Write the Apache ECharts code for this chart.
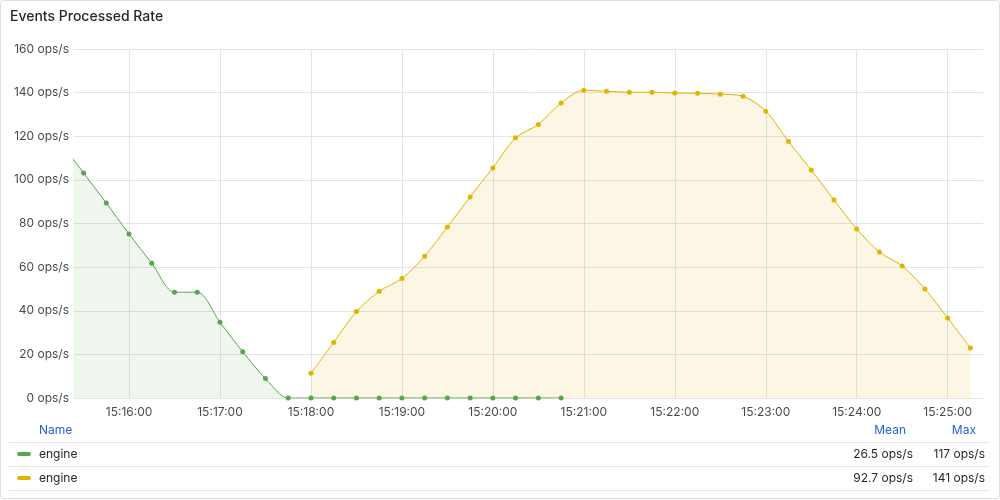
<!DOCTYPE html>
<html>
<head>
<meta charset="utf-8">
<script src="https://cdn.jsdelivr.net/npm/echarts@6/dist/echarts.min.js"></script>
<style>
html,body{margin:0;padding:0;background:#fff;}
#c{width:1000px;height:500px;}
</style>
</head>
<body>
<div id="c"></div>
<script>
// ---- data ----
const title = 'Events Processed Rate';
const seriesNames = ['engine', 'engine'];
const seriesColors = ['#56a64b', '#e0b400'];
// green series: 15:15:15 .. 15:20:45 every 15 s
const greenStart = [15, 15, 15];
const greenValues = [117, 103.2, 89.4, 75.2, 61.8, 48.5, 48.5, 34.7, 21.2, 8.9,
  0, 0, 0, 0, 0, 0, 0, 0, 0, 0, 0, 0, 0];
// yellow series: 15:18:00 .. 15:25:15 every 15 s
const yellowStart = [15, 18, 0];
const yellowValues = [11.3, 25.5, 39.6, 48.9, 54.8, 65, 78.4, 92.2, 105.5, 119.3, 125.4, 135.3,
  141.1, 140.6, 140.2, 140.2, 139.8, 139.7, 139.3, 138.3,
  131.5, 117.6, 104.5, 90.8, 77.5, 66.9, 60.5, 50, 36.7, 22.9];
const stepSeconds = 15;
const xRange = [[15, 15, 23.7], [15, 25, 23.3]];
const yTicks = { min: 0, max: 160, interval: 20, unit: ' ops/s' };
const legendHeaders = ['Name', 'Mean', 'Max'];
const legendMeans = ['26.5 ops/s', '92.7 ops/s'];
const legendMaxes = ['117 ops/s', '141 ops/s'];

// ---- build ----
function t(h, m, s) { return new Date(2024, 0, 1, h, m, 0).getTime() + s * 1000; }
function buildSeries(start, values) {
  const base = t(start[0], start[1], start[2]);
  return values.map((v, i) => [base + i * stepSeconds * 1000, v]);
}
function pad(n) { return String(n).padStart(2, '0'); }

const chart = echarts.init(document.getElementById('c'), null, { renderer: 'canvas' });
const font = 'Inter, "Open Sans", Roboto, sans-serif';
const textCol = '#24292e';
const axisText = 'rgba(36,41,46,0.85)';
const blue = '#1f62e0';

function mkSeries(idx, data, z) {
  const col = seriesColors[idx];
  return {
    name: seriesNames[idx] + idx,
    type: 'line',
    data: data,
    smooth: 0.3,
    z: z,
    symbol: 'circle',
    symbolSize: 5,
    showSymbol: true,
    lineStyle: { width: 1, color: col },
    itemStyle: { color: col },
    areaStyle: { color: col, opacity: 0.1 },
    emphasis: { disabled: true },
    animation: false
  };
}

const graphics = [];
graphics.push({ type: 'rect', shape: { x: 0.5, y: 0.5, width: 999, height: 498, r: 3 },
  style: { fill: 'none', stroke: '#dcdee1', lineWidth: 1 }, silent: true, z: -10 });
graphics.push({ type: 'text', x: 10, y: 17, style: { text: title, font: '500 14px ' + font, fill: textCol, textVerticalAlign: 'middle' } });
// legend table
const headY = 430;
graphics.push({ type: 'text', x: 39, y: headY, style: { text: legendHeaders[0], font: '12px ' + font, fill: blue, textVerticalAlign: 'middle' } });
graphics.push({ type: 'text', x: 906, y: headY, style: { text: legendHeaders[1], font: '12px ' + font, fill: blue, textAlign: 'right', textVerticalAlign: 'middle' } });
graphics.push({ type: 'text', x: 976, y: headY, style: { text: legendHeaders[2], font: '12px ' + font, fill: blue, textAlign: 'right', textVerticalAlign: 'middle' } });
const sepYs = [442.5, 466.5, 490.5];
sepYs.forEach(y => graphics.push({ type: 'line', shape: { x1: 9, y1: y, x2: 990, y2: y }, style: { stroke: '#e4e5e7', lineWidth: 1 } }));
seriesNames.forEach((n, i) => {
  const y = 454 + i * 24;
  graphics.push({ type: 'rect', shape: { x: 17, y: y - 2, width: 14, height: 4, r: 2 }, style: { fill: seriesColors[i] } });
  graphics.push({ type: 'text', x: 39, y: y, style: { text: n, font: '12px ' + font, fill: textCol, textVerticalAlign: 'middle' } });
  graphics.push({ type: 'text', x: 913, y: y, style: { text: legendMeans[i], font: '12px ' + font, fill: textCol, textAlign: 'right', textVerticalAlign: 'middle' } });
  graphics.push({ type: 'text', x: 985, y: y, style: { text: legendMaxes[i], font: '12px ' + font, fill: textCol, textAlign: 'right', textVerticalAlign: 'middle' } });
});

chart.setOption({
  animation: false,
  backgroundColor: '#ffffff',
  textStyle: { fontFamily: font },
  grid: { left: 74, right: 17, top: 49, bottom: 102, containLabel: false, outerBoundsMode: 'none' },
  xAxis: {
    type: 'time',
    min: t(...xRange[0]),
    max: t(...xRange[1]),
    minInterval: 60000,
    maxInterval: 60000,
    axisLine: { show: false },
    axisTick: { show: false },
    splitLine: { show: true, showMinLine: false, showMaxLine: false, lineStyle: { color: '#e4e4e4', width: 1 } },
    axisLabel: {
      show: true, color: axisText, fontSize: 12, margin: 8, fontFamily: font,
      showMinLabel: false, showMaxLabel: false,
      formatter: function (v) { const d = new Date(v); return pad(d.getHours()) + ':' + pad(d.getMinutes()) + ':' + pad(d.getSeconds()); }
    }
  },
  yAxis: {
    type: 'value',
    min: yTicks.min, max: yTicks.max, interval: yTicks.interval,
    axisLine: { show: false },
    axisTick: { show: false },
    splitLine: { show: true, lineStyle: { color: '#e4e4e4', width: 1 } },
    axisLabel: { color: axisText, fontSize: 12, margin: 5, fontFamily: font, formatter: v => v + yTicks.unit }
  },
  series: [
    mkSeries(1, buildSeries(yellowStart, yellowValues), 2),
    mkSeries(0, buildSeries(greenStart, greenValues), 3)
  ],
  graphic: graphics
});
</script>
</body>
</html>
